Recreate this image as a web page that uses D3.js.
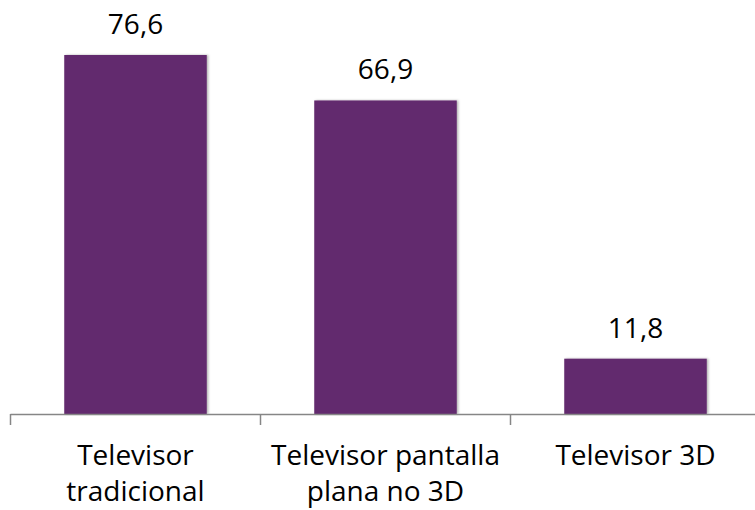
<!DOCTYPE html>
<html>
<head>
<meta charset="utf-8">
<script src="https://cdn.jsdelivr.net/npm/d3@7"></script>
<style>
body{margin:0;background:#fff}
text{font-family:"Open Sans",sans-serif;fill:#000}
</style>
</head>
<body>
<div id="chart"></div>
<script>
var categories = [["Televisor","tradicional"],["Televisor pantalla","plana no 3D"],["Televisor 3D"]]
var values = [76.6, 66.9, 11.8]
var valueLabels = ["76,6","66,9","11,8"]

var width = 755
var height = 510
var svg = d3.select("#chart").append("svg")
    .attr("width",width)
    .attr("height",height)

var x = d3.scaleBand()
    .domain(d3.range(categories.length))
    .range([10.5, 760.5])
    .paddingInner(0.43)
    .paddingOuter(0.215)

var y = d3.scaleLinear()
    .domain([0, 76.6])
    .range([414, 55])

// slight shadow like the original
var defs = svg.append("defs")
var f = defs.append("filter").attr("id","sh").attr("x","-5%").attr("y","-5%").attr("width","115%").attr("height","115%")
f.append("feDropShadow").attr("dx",1.5).attr("dy",0).attr("stdDeviation",1.2).attr("flood-color","#000").attr("flood-opacity",0.3)

svg.append("g")
    .selectAll("rect")
    .data(values)
    .enter().append("rect")
    .attr("x",function(d,i){return x(i)})
    .attr("y",function(d){return y(d)})
    .attr("width",x.bandwidth())
    .attr("height",function(d){return y(0)-y(d)})
    .attr("fill","#622a6e")
    .attr("filter","url(#sh)")

svg.append("g")
    .selectAll("text")
    .data(values)
    .enter().append("text")
    .attr("x",function(d,i){return x(i)+x.bandwidth()/2})
    .attr("y",function(d){return y(d)-21})
    .attr("text-anchor","middle")
    .attr("font-size","28px")
    .text(function(d,i){return valueLabels[i]})

// axis line + ticks between bands
var step = x.step()
svg.append("line")
    .attr("x1",10.5).attr("x2",width)
    .attr("y1",414.5).attr("y2",414.5)
    .attr("stroke","#868686").attr("stroke-width",1.5)
svg.append("g").selectAll("line")
    .data(d3.range(categories.length+1))
    .enter().append("line")
    .attr("x1",function(i){return 10.5+i*step})
    .attr("x2",function(i){return 10.5+i*step})
    .attr("y1",414).attr("y2",425)
    .attr("stroke","#868686").attr("stroke-width",1.5)

var lab = svg.append("g")
    .selectAll("text")
    .data(categories)
    .enter().append("text")
    .attr("x",function(d,i){return x(i)+x.bandwidth()/2})
    .attr("y",465)
    .attr("text-anchor","middle")
    .attr("font-size","28px")
lab.selectAll("tspan")
    .data(function(d){return d})
    .enter().append("tspan")
    .attr("x",function(){return d3.select(this.parentNode).attr("x")})
    .attr("dy",function(d,i){return i==0?0:36})
    .text(function(d){return d})
</script>
</body>
</html>
